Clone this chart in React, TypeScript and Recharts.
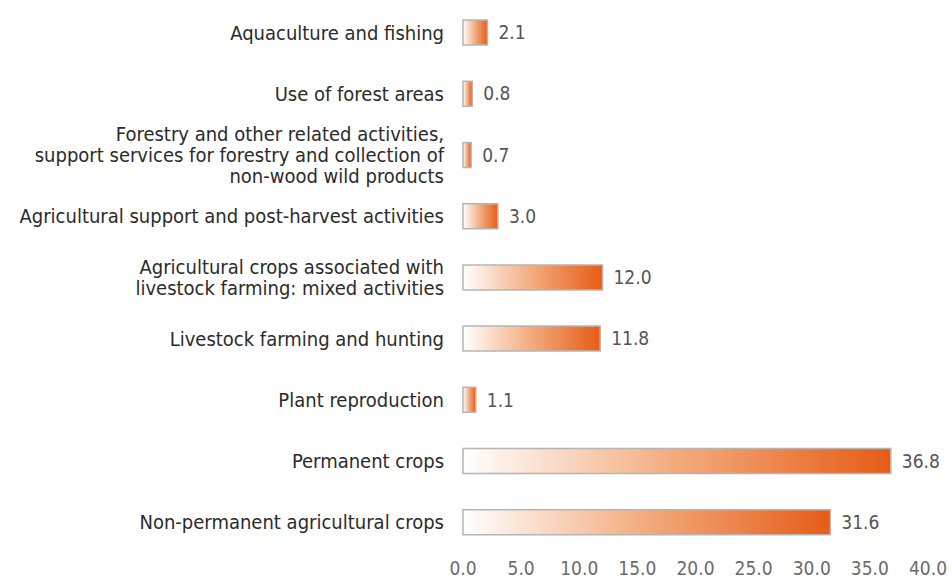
import React from 'react';
import { BarChart, Bar, XAxis, YAxis, LabelList } from 'recharts';

const categories = [
    'Aquaculture and fishing',
    'Use of forest areas',
    'Forestry and other related activities,\nsupport services for forestry and collection of\nnon-wood wild products',
    'Agricultural support and post-harvest activities',
    'Agricultural crops associated with\nlivestock farming: mixed activities',
    'Livestock farming and hunting',
    'Plant reproduction',
    'Permanent crops',
    'Non-permanent agricultural crops',
];

const values = [2.1, 0.8, 0.7, 3.0, 12.0, 11.8, 1.1, 36.8, 31.6];

const xTicks = [0, 5, 10, 15, 20, 25, 30, 35, 40];

const data = categories.map((name, i) => ({ name, value: values[i] }));

const FONT = "'DejaVu Sans Condensed', 'Liberation Sans Narrow', sans-serif";

const CategoryTick = (props: any) => {
    const { x, y, payload } = props;
    const lines = String(payload.value).split('\n');
    const lineHeight = 21;
    const startY = y - ((lines.length - 1) * lineHeight) / 2;
    return (
        <text x={x} y={startY} textAnchor="end" fill="#2b2b2b" fontSize={20} fontFamily={FONT} dominantBaseline="central">
            {lines.map((line, i) => (
                <tspan key={i} x={x} y={startY + i * lineHeight} dominantBaseline="central">
                    {line}
                </tspan>
            ))}
        </text>
    );
};

const App: React.FC = () => {
    return (
        <div style={{ position: 'absolute', left: 0, top: 0, width: 952, height: 581, background: '#fff' }}>
            <BarChart
                width={952}
                height={581}
                data={data}
                layout="vertical"
                margin={{ top: 2, right: 24, left: 0, bottom: 0 }}
                barSize={25}
            >
                <defs>
                    <linearGradient id="barFade" x1="0" y1="0" x2="1" y2="0">
                        <stop offset="0%" stopColor="#ffffff" />
                        <stop offset="50%" stopColor="#f3aa7c" />
                        <stop offset="100%" stopColor="#e65c17" />
                    </linearGradient>
                </defs>
                <XAxis
                    type="number"
                    domain={[0, 40]}
                    ticks={xTicks}
                    axisLine={false}
                    tickLine={false}
                    height={28}
                    tickMargin={3}
                    tickFormatter={(v) => v.toFixed(1)}
                    tick={{ fill: '#6b6b6b', fontSize: 19, fontFamily: FONT }}
                />
                <YAxis
                    type="category"
                    dataKey="name"
                    width={463}
                    axisLine={false}
                    tickLine={false}
                    tickMargin={13}
                    interval={0}
                    tick={<CategoryTick />}
                />
                <Bar dataKey="value" fill="url(#barFade)" stroke="#b5b5b5" strokeWidth={1.5} isAnimationActive={false}>
                    <LabelList
                        dataKey="value"
                        position="right"
                        offset={11}
                        formatter={(v: any) => Number(v).toFixed(1)}
                        style={{ fill: '#555', fontSize: 19, fontFamily: FONT }}
                    />
                </Bar>
            </BarChart>
        </div>
    );
};

export default App;
